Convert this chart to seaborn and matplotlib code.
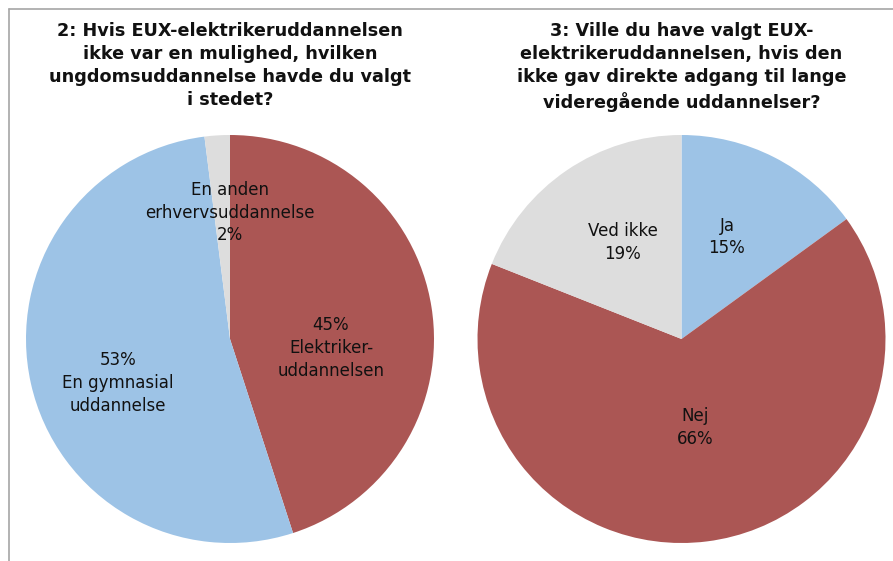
import matplotlib
matplotlib.use("Agg")
import matplotlib.pyplot as plt
import seaborn as sns
from matplotlib.lines import Line2D

sns.set_theme(style="white")
plt.rcParams['font.family'] = ['DejaVu Sans']

# Data
left_title = "2: Hvis EUX-elektrikeruddannelsen\nikke var en mulighed, hvilken\nungdomsuddannelse havde du valgt\ni stedet?"
left_labels = ["45%\nElektriker-\nuddannelsen", "53%\nEn gymnasial\nuddannelse", "En anden\nerhvervsuddannelse\n2%"]
left_values = [45, 53, 2]
left_label_pos = [(0.495, -0.044), (-0.55, -0.216), (0.0, 0.62)]

right_title = "3: Ville du have valgt EUX-\nelektrikeruddannelsen, hvis den\nikke gav direkte adgang til lange\nvideregående uddannelser?"
right_labels = ["Ja\n15%", "Nej\n66%", "Ved ikke\n19%"]
right_values = [15, 66, 19]
right_label_pos = [(0.223, 0.50), (0.066, -0.436), (-0.287, 0.473)]

red = "#AB5654"
blue = "#9DC3E6"
grey = "#DDDDDD"
left_colors = [red, blue, grey]
right_colors = [blue, red, grey]

W, H = 893, 561
fig = plt.figure(figsize=(W / 100, H / 100), dpi=100)

R = 204
cy = 339

def make_axes(cx):
    return fig.add_axes([(cx - R) / W, (H - cy - R) / H, 2 * R / W, 2 * R / H])

for cx, vals, cols, labs, pos, title in [
    (230, left_values, left_colors, left_labels, left_label_pos, left_title),
    (681.5, right_values, right_colors, right_labels, right_label_pos, right_title),
]:
    ax = make_axes(cx)
    ax.pie(vals, colors=cols, startangle=90, counterclock=False,
           radius=1.0, wedgeprops=dict(linewidth=0))
    ax.set_xlim(-1, 1)
    ax.set_ylim(-1, 1)
    ax.set_aspect('equal')
    ax.axis('off')
    for lab, (x, y) in zip(labs, pos):
        ax.text(x, y, lab, ha='center', va='center', fontsize=12,
                color='#111111', linespacing=1.35)
    fig.text(cx / W, 1 - 22 / H, title, ha='center', va='top', fontsize=12.7,
             fontweight='bold', color='#111111', linespacing=1.36)

# frame lines
fig.add_artist(Line2D([9 / W, 1.0], [1 - 9 / H, 1 - 9 / H], color='#A6A6A6', lw=1.2,
                      transform=fig.transFigure))
fig.add_artist(Line2D([9 / W, 9 / W], [0, 1 - 9 / H], color='#A6A6A6', lw=1.2,
                      transform=fig.transFigure))

fig.savefig("out.png", dpi=100)
